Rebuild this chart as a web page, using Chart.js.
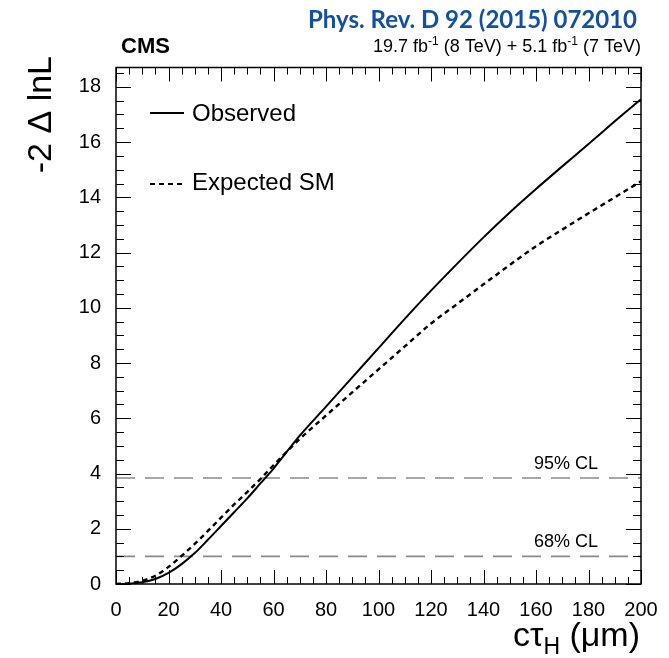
<!DOCTYPE html>
<html>
<head>
<meta charset="utf-8">
<script src="https://cdn.jsdelivr.net/npm/chart.js@4.4.1/dist/chart.umd.min.js"></script>
<style>
  html, body { margin: 0; padding: 0; background: #fff; }
  canvas { display: block; }
</style>
</head>
<body>
<canvas id="likelihoodChart" width="669" height="658"></canvas>
<script>
// values
const ctau = [0, 5, 10, 15, 20, 25, 30, 35, 40, 45, 50, 55, 60, 70, 80, 90, 100, 110, 120, 130, 140, 150, 160, 170, 180, 190, 200];
const observed = [0, 0.01, 0.06, 0.18, 0.4, 0.72, 1.12, 1.6, 2.1, 2.6, 3.1, 3.64, 4.18, 5.37, 6.42, 7.48, 8.54, 9.6, 10.62, 11.6, 12.55, 13.45, 14.3, 15.12, 15.93, 16.75, 17.55];
const expected = [0, 0.03, 0.12, 0.3, 0.62, 1.02, 1.45, 1.92, 2.4, 2.88, 3.33, 3.8, 4.3, 5.25, 6.1, 6.94, 7.77, 8.6, 9.43, 10.14, 10.85, 11.55, 12.23, 12.83, 13.42, 14.0, 14.58];
const clLevels = [1, 3.84];
const clLabels = ['68% CL', '95% CL'];
const xRange = [0, 200];
const yRange = [0, 18.7];

const FONT = '"Liberation Sans", Arial, Helvetica, sans-serif';

const toPoints = (xs, ys) => xs.map((x, i) => ({ x: x, y: ys[i] }));

const clDatasets = clLevels.map((lvl, i) => ({
    label: clLabels[i],
    data: [{ x: xRange[0], y: lvl }, { x: xRange[1], y: lvl }],
    borderColor: '#8a8a8a',
    borderWidth: 1.6,
    borderDash: [19, 10],
    pointRadius: 0,
    order: 3
}));

// draws the root-style frame, inward ticks and all the extra text
const decorations = {
    id: 'decorations',
    beforeDraw(chart) {
        const ctx = chart.ctx;
        ctx.save();
        ctx.fillStyle = '#fff';
        ctx.fillRect(0, 0, chart.width, chart.height);
        ctx.restore();
    },
    afterDraw(chart) {
        const ctx = chart.ctx;
        const a = chart.chartArea;
        const xs = chart.scales.x;
        const ys = chart.scales.y;
        ctx.save();

        // ticks
        ctx.strokeStyle = '#000';
        ctx.lineWidth = 1;
        for (let v = xRange[0]; v <= xRange[1]; v += 5) {
            const px = Math.round(xs.getPixelForValue(v)) + 0.5;
            const len = v % 20 === 0 ? 14 : 7;
            ctx.beginPath();
            ctx.moveTo(px, a.bottom); ctx.lineTo(px, a.bottom - len);
            ctx.moveTo(px, a.top); ctx.lineTo(px, a.top + len);
            ctx.stroke();
        }
        for (let v = 0; v <= yRange[1]; v += 0.5) {
            const py = Math.round(ys.getPixelForValue(v)) + 0.5;
            const len = v % 2 === 0 ? 15 : 8;
            ctx.beginPath();
            ctx.moveTo(a.left, py); ctx.lineTo(a.left + len, py);
            ctx.moveTo(a.right, py); ctx.lineTo(a.right - len, py);
            ctx.stroke();
        }

        // frame
        ctx.lineWidth = 1.5;
        ctx.strokeRect(a.left, a.top, a.right - a.left, a.bottom - a.top);

        // CL labels
        ctx.fillStyle = '#000';
        ctx.font = '18px ' + FONT;
        ctx.textAlign = 'right';
        ctx.textBaseline = 'alphabetic';
        clLevels.forEach((lvl, i) => {
            ctx.fillText(clLabels[i], 598, ys.getPixelForValue(lvl) - 9);
        });

        // legend
        ctx.textAlign = 'left';
        ctx.textBaseline = 'middle';
        ctx.font = '24px ' + FONT;
        ctx.lineWidth = 2;
        ctx.beginPath();
        ctx.moveTo(150, 113); ctx.lineTo(184, 113);
        ctx.stroke();
        ctx.fillText('Observed', 192, 114);
        ctx.setLineDash([5, 4]);
        ctx.lineWidth = 2.2;
        ctx.beginPath();
        ctx.moveTo(150, 184); ctx.lineTo(184, 184);
        ctx.stroke();
        ctx.setLineDash([]);
        ctx.fillText('Expected SM', 192, 183);

        // CMS + lumi
        ctx.textBaseline = 'alphabetic';
        ctx.font = 'bold 22px ' + FONT;
        ctx.fillText('CMS', 121, 53);

        const lumi = [
            ['19.7 fb', 18, 0], ['-1', 12, -7], [' (8 TeV) + 5.1 fb', 18, 0], ['-1', 12, -7], [' (7 TeV)', 18, 0]
        ];
        let total = 0;
        lumi.forEach(p => { ctx.font = p[1] + 'px ' + FONT; total += ctx.measureText(p[0]).width; });
        let lx = 641 - total;
        lumi.forEach(p => {
            ctx.font = p[1] + 'px ' + FONT;
            ctx.fillText(p[0], lx, 52 + p[2]);
            lx += ctx.measureText(p[0]).width;
        });

        // journal reference
        ctx.fillStyle = '#1250a2';
        ctx.font = 'bold 24px Lato, "Open Sans", sans-serif';
        ctx.textAlign = 'right';
        ctx.fillText('Phys. Rev. D 92 (2015) 072010', 637, 28);

        // x axis title
        ctx.fillStyle = '#000';
        ctx.textAlign = 'left';
        const xt = [['c\u03c4', 34, 0], ['H', 23, 8], [' (\u03bcm)', 34, 0]];
        total = 0;
        xt.forEach(p => { ctx.font = p[1] + 'px ' + FONT; total += ctx.measureText(p[0]).width; });
        let tx = 640 - total;
        xt.forEach(p => {
            ctx.font = p[1] + 'px ' + FONT;
            ctx.fillText(p[0], tx, 646 + p[2]);
            tx += ctx.measureText(p[0]).width;
        });

        // y axis title
        ctx.translate(51, 56);
        ctx.rotate(-Math.PI / 2);
        ctx.textAlign = 'right';
        ctx.font = '34px ' + FONT;
        ctx.fillText('-2 \u0394 lnL', 0, 0);

        ctx.restore();
    }
};

const ctx = document.getElementById('likelihoodChart').getContext('2d');
const likelihoodChart = new Chart(ctx, {
    type: 'line',
    data: {
        datasets: [
            {
                label: 'Observed',
                data: toPoints(ctau, observed),
                borderColor: '#000',
                borderWidth: 2,
                pointRadius: 0,
                cubicInterpolationMode: 'monotone',
                order: 1
            },
            {
                label: 'Expected SM',
                data: toPoints(ctau, expected),
                borderColor: '#000',
                borderWidth: 2.4,
                borderDash: [5, 4],
                pointRadius: 0,
                cubicInterpolationMode: 'monotone',
                order: 2
            },
            ...clDatasets
        ]
    },
    options: {
        responsive: false,
        animation: false,
        layout: {
            padding: { top: 67.5, right: 28, left: 0, bottom: 0 }
        },
        plugins: {
            legend: { display: false },
            tooltip: { enabled: false }
        },
        scales: {
            x: {
                type: 'linear',
                min: xRange[0],
                max: xRange[1],
                grid: { display: false },
                border: { display: false },
                ticks: {
                    stepSize: 20,
                    maxRotation: 0,
                    autoSkip: false,
                    color: '#000',
                    padding: 6,
                    font: { family: FONT, size: 20 }
                },
                afterFit: s => { s.height = 74; }
            },
            y: {
                type: 'linear',
                min: yRange[0],
                max: yRange[1],
                grid: { display: false },
                border: { display: false },
                ticks: {
                    stepSize: 2,
                    includeBounds: false,
                    color: '#000',
                    padding: 7,
                    font: { family: FONT, size: 20 }
                },
                afterFit: s => { s.width = 116; }
            }
        }
    },
    plugins: [decorations]
});
</script>
</body>
</html>
